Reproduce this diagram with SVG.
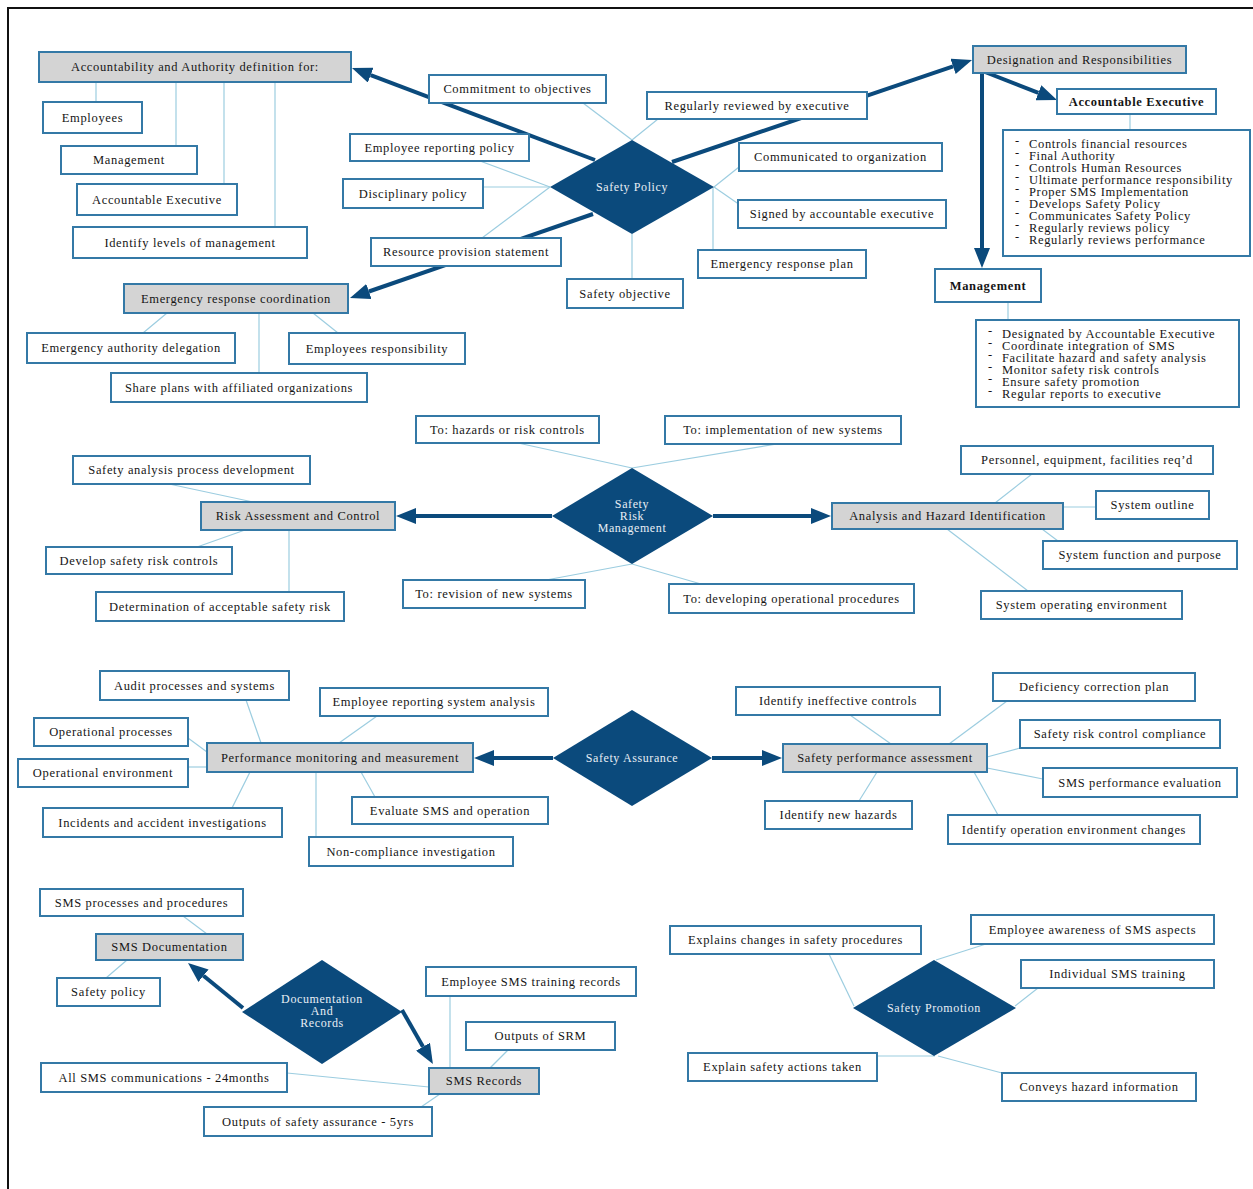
<svg xmlns="http://www.w3.org/2000/svg" width="1253" height="1189" viewBox="0 0 1253 1189">
<defs>
<style>
.b rect{fill:#fff;stroke:#3479a6;stroke-width:2}
.h rect{fill:#d4d4d4;stroke:#3479a6;stroke-width:2}
.b text,.h text{font-family:"Liberation Serif","Times New Roman",serif;font-size:12.5px;letter-spacing:0.65px;fill:#151515;text-anchor:middle;dominant-baseline:central}
.bold text{font-weight:bold}
.l text{text-anchor:start}
.d polygon{fill:#0b4a7c}
.d text{font-family:"Liberation Serif","Times New Roman",serif;font-size:12px;letter-spacing:0.6px;fill:#e8eef5;text-anchor:middle;dominant-baseline:central}
.thin line{stroke:#9ccde0;stroke-width:1.2}
.thick line{stroke:#0b4a7c;stroke-width:4;marker-end:url(#ah)}
</style>
<marker id="ah" markerUnits="userSpaceOnUse" markerWidth="20" markerHeight="16" refX="0" refY="8" orient="auto">
<path d="M0,0 L20,8 L0,16 z" fill="#0b4a7c"/>
</marker>
</defs>
<rect x="0" y="0" width="1253" height="1189" fill="#fff"/>
<rect x="8" y="8" width="1300" height="1300" fill="none" stroke="#111" stroke-width="2"/>

<g id="connectors">
<g class="thin">
<line x1="96" y1="82" x2="96" y2="102"/>
<line x1="176" y1="82" x2="176" y2="146"/>
<line x1="224" y1="82" x2="224" y2="184"/>
<line x1="275" y1="82" x2="275" y2="227"/>
<line x1="583" y1="103" x2="632" y2="140"/>
<line x1="658" y1="119" x2="632" y2="140"/>
<line x1="480" y1="161" x2="550" y2="187"/>
<line x1="483" y1="187" x2="550" y2="187"/>
<line x1="482" y1="238" x2="550" y2="187"/>
<line x1="632" y1="234" x2="632" y2="279"/>
<line x1="713" y1="187" x2="713" y2="250"/>
<line x1="714" y1="187" x2="739" y2="167"/>
<line x1="714" y1="187" x2="740" y2="205"/>
<line x1="167" y1="313" x2="143" y2="333"/>
<line x1="259" y1="313" x2="259" y2="373"/>
<line x1="313" y1="313" x2="338" y2="333"/>
<line x1="1130" y1="114" x2="1130" y2="130"/>
<line x1="1008" y1="302" x2="1008" y2="320"/>
<line x1="518" y1="443" x2="632" y2="468"/>
<line x1="777" y1="444" x2="632" y2="468"/>
<line x1="546" y1="580" x2="632" y2="564"/>
<line x1="701" y1="584" x2="632" y2="564"/>
<line x1="169" y1="484" x2="253" y2="502"/>
<line x1="245" y1="530" x2="197" y2="547"/>
<line x1="289" y1="530" x2="289" y2="592"/>
<line x1="995" y1="503" x2="1032" y2="474"/>
<line x1="1063" y1="507" x2="1096" y2="507"/>
<line x1="1042" y1="529" x2="1058" y2="541"/>
<line x1="947" y1="529" x2="1028" y2="591"/>
<line x1="246" y1="700" x2="261" y2="743"/>
<line x1="377" y1="716" x2="339" y2="743"/>
<line x1="188" y1="738" x2="207" y2="752"/>
<line x1="188" y1="767" x2="207" y2="767"/>
<line x1="232" y1="808" x2="250" y2="772"/>
<line x1="316" y1="772" x2="316" y2="837"/>
<line x1="361" y1="772" x2="375" y2="797"/>
<line x1="850" y1="715" x2="891" y2="744"/>
<line x1="1007" y1="701" x2="949" y2="744"/>
<line x1="1020" y1="748" x2="987" y2="757"/>
<line x1="987" y1="768" x2="1043" y2="779"/>
<line x1="877" y1="772" x2="859" y2="801"/>
<line x1="974" y1="772" x2="998" y2="815"/>
<line x1="183" y1="916" x2="207" y2="934"/>
<line x1="127" y1="960" x2="106" y2="978"/>
<line x1="450" y1="996" x2="450" y2="1068"/>
<line x1="508" y1="1050" x2="490" y2="1068"/>
<line x1="287" y1="1073" x2="429" y2="1087"/>
<line x1="440" y1="1094" x2="421" y2="1107"/>
<line x1="829" y1="954" x2="854" y2="1006"/>
<line x1="986" y1="944" x2="936" y2="960"/>
<line x1="1038" y1="988" x2="1015" y2="1006"/>
<line x1="877" y1="1056" x2="935" y2="1056"/>
<line x1="938" y1="1056" x2="1002" y2="1073"/>
</g>
<g class="thick">
<line x1="595" y1="160" x2="370.7" y2="75.1"/>
<line x1="672" y1="162" x2="953.1" y2="66.4"/>
<line x1="593" y1="214" x2="368.9" y2="291.5"/>
<line x1="985" y1="72" x2="1038.4" y2="92.8"/>
<line x1="982" y1="72" x2="982" y2="248"/>
<line x1="552" y1="516" x2="416" y2="516"/>
<line x1="713" y1="516" x2="811" y2="516"/>
<line x1="553" y1="758" x2="494" y2="758"/>
<line x1="712" y1="758" x2="762" y2="758"/>
<line x1="243" y1="1008" x2="203.5" y2="975.7"/>
<line x1="402" y1="1010" x2="423" y2="1046.7"/>
</g>
</g>

<g id="nodes">
<g id="n_acc" class="h"><rect x="39" y="52" width="312" height="30"/><text x="195" y="67">Accountability and Authority definition for:</text></g>
<g id="n_emp" class="b"><rect x="43" y="102" width="99" height="31"/><text x="92.5" y="118">Employees</text></g>
<g id="n_mgmt" class="b"><rect x="61" y="146" width="136" height="28"/><text x="129" y="160">Management</text></g>
<g id="n_ae1" class="b"><rect x="77" y="184" width="160" height="31"/><text x="157" y="200">Accountable Executive</text></g>
<g id="n_lvl" class="b"><rect x="73" y="227" width="234" height="31"/><text x="190" y="242.5">Identify levels of management</text></g>

<g id="d_sp" class="d"><polygon points="550,187 632,140 714,187 632,234"/><text x="632" y="187">Safety Policy</text></g>
<g id="n_commit" class="b"><rect x="429" y="75" width="177" height="28"/><text x="517.5" y="89">Commitment to objectives</text></g>
<g id="n_review" class="b"><rect x="647" y="92" width="220" height="27"/><text x="757" y="105.5">Regularly reviewed by executive</text></g>
<g id="n_erp" class="b"><rect x="350" y="134" width="179" height="27"/><text x="439.5" y="147.5">Employee reporting policy</text></g>
<g id="n_disc" class="b"><rect x="343" y="179" width="140" height="29"/><text x="413" y="193.5">Disciplinary policy</text></g>
<g id="n_res" class="b"><rect x="371" y="238" width="190" height="28"/><text x="466" y="252">Resource provision statement</text></g>
<g id="n_sobj" class="b"><rect x="567" y="279" width="116" height="29"/><text x="625" y="293.5">Safety objective</text></g>
<g id="n_eplan" class="b"><rect x="698" y="250" width="168" height="28"/><text x="782" y="264">Emergency response plan</text></g>
<g id="n_signed" class="b"><rect x="738" y="200" width="208" height="28"/><text x="842" y="214">Signed by accountable executive</text></g>
<g id="n_comm" class="b"><rect x="739" y="143" width="203" height="28"/><text x="840.5" y="157">Communicated to organization</text></g>

<g id="n_erc" class="h"><rect x="124" y="284" width="224" height="29"/><text x="236" y="298.5">Emergency response coordination</text></g>
<g id="n_ead" class="b"><rect x="27" y="333" width="208" height="30"/><text x="131" y="348">Emergency authority delegation</text></g>
<g id="n_eresp" class="b"><rect x="289" y="333" width="176" height="31"/><text x="377" y="348.5">Employees responsibility</text></g>
<g id="n_share" class="b"><rect x="111" y="373" width="256" height="29"/><text x="239" y="387.5">Share plans with affiliated organizations</text></g>

<g id="n_des" class="h"><rect x="973" y="46" width="213" height="27"/><text x="1079.5" y="59.5">Designation and Responsibilities</text></g>
<g id="n_ae" class="b bold"><rect x="1057" y="89" width="159" height="25"/><text x="1136.5" y="101.5">Accountable Executive</text></g>
<g id="n_ae_list" class="b l"><rect x="1003" y="130" width="247" height="126"/>
<text x="1015" y="141">-</text><text x="1029" y="144">Controls financial resources</text>
<text x="1015" y="153">-</text><text x="1029" y="156">Final Authority</text>
<text x="1015" y="165">-</text><text x="1029" y="168">Controls Human Resources</text>
<text x="1015" y="177">-</text><text x="1029" y="180">Ultimate performance responsibility</text>
<text x="1015" y="189">-</text><text x="1029" y="192">Proper SMS Implementation</text>
<text x="1015" y="201">-</text><text x="1029" y="204">Develops Safety Policy</text>
<text x="1015" y="213">-</text><text x="1029" y="216">Communicates Safety Policy</text>
<text x="1015" y="225">-</text><text x="1029" y="228">Regularly reviews policy</text>
<text x="1015" y="237">-</text><text x="1029" y="240">Regularly reviews performance</text>
</g>
<g id="n_mg" class="b bold"><rect x="935" y="269" width="106" height="33"/><text x="988" y="285.5">Management</text></g>
<g id="n_mg_list" class="b l"><rect x="976" y="320" width="263" height="87"/>
<text x="988" y="331">-</text><text x="1002" y="334">Designated by Accountable Executive</text>
<text x="988" y="343">-</text><text x="1002" y="346">Coordinate integration of SMS</text>
<text x="988" y="355">-</text><text x="1002" y="358">Facilitate hazard and safety analysis</text>
<text x="988" y="367">-</text><text x="1002" y="370">Monitor safety risk controls</text>
<text x="988" y="379">-</text><text x="1002" y="382">Ensure safety promotion</text>
<text x="988" y="391">-</text><text x="1002" y="394">Regular reports to executive</text>
</g>

<g id="d_srm" class="d"><polygon points="552,516 632,468 713,516 632,564"/><text x="632" y="504">Safety</text><text x="632" y="516">Risk</text><text x="632" y="528">Management</text></g>
<g id="n_haz" class="b"><rect x="416" y="416" width="183" height="27"/><text x="507.5" y="429.5">To: hazards or risk controls</text></g>
<g id="n_impl" class="b"><rect x="665" y="416" width="236" height="28"/><text x="783" y="430">To: implementation of new systems</text></g>
<g id="n_sapd" class="b"><rect x="73" y="456" width="237" height="28"/><text x="191.5" y="470">Safety analysis process development</text></g>
<g id="n_rac" class="h"><rect x="201" y="502" width="194" height="28"/><text x="298" y="516">Risk Assessment and Control</text></g>
<g id="n_dsrc" class="b"><rect x="46" y="547" width="186" height="27"/><text x="139" y="560.5">Develop safety risk controls</text></g>
<g id="n_dasr" class="b"><rect x="96" y="592" width="248" height="29"/><text x="220" y="606.5">Determination of acceptable safety risk</text></g>
<g id="n_rev" class="b"><rect x="403" y="580" width="182" height="28"/><text x="494" y="594">To: revision of new systems</text></g>
<g id="n_dop" class="b"><rect x="669" y="584" width="245" height="29"/><text x="791.5" y="598.5">To: developing operational procedures</text></g>
<g id="n_ahi" class="h"><rect x="832" y="503" width="231" height="26"/><text x="947.5" y="516">Analysis and Hazard Identification</text></g>
<g id="n_pers" class="b"><rect x="961" y="446" width="252" height="28"/><text x="1087" y="460">Personnel, equipment, facilities req’d</text></g>
<g id="n_sout" class="b"><rect x="1096" y="491" width="113" height="28"/><text x="1152.5" y="505">System outline</text></g>
<g id="n_sfp" class="b"><rect x="1043" y="541" width="194" height="28"/><text x="1140" y="555">System function and purpose</text></g>
<g id="n_soe" class="b"><rect x="981" y="591" width="201" height="28"/><text x="1081.5" y="605">System operating environment</text></g>

<g id="d_sa" class="d"><polygon points="553,758 632,710 712,758 632,806"/><text x="632" y="758">Safety Assurance</text></g>
<g id="n_audit" class="b"><rect x="100" y="671" width="189" height="29"/><text x="194.5" y="685.5">Audit processes and systems</text></g>
<g id="n_ersa" class="b"><rect x="320" y="688" width="228" height="28"/><text x="434" y="702">Employee reporting system analysis</text></g>
<g id="n_opp" class="b"><rect x="34" y="718" width="154" height="28"/><text x="111" y="732">Operational processes</text></g>
<g id="n_ope" class="b"><rect x="18" y="759" width="170" height="28"/><text x="103" y="773">Operational environment</text></g>
<g id="n_pmm" class="h"><rect x="207" y="743" width="266" height="29"/><text x="340" y="757.5">Performance monitoring and measurement</text></g>
<g id="n_eval" class="b"><rect x="352" y="797" width="196" height="27"/><text x="450" y="810.5">Evaluate SMS and operation</text></g>
<g id="n_inc" class="b"><rect x="43" y="808" width="239" height="29"/><text x="162.5" y="822.5">Incidents and accident investigations</text></g>
<g id="n_nci" class="b"><rect x="309" y="837" width="204" height="29"/><text x="411" y="851.5">Non-compliance investigation</text></g>
<g id="n_iic" class="b"><rect x="736" y="687" width="204" height="28"/><text x="838" y="701">Identify ineffective controls</text></g>
<g id="n_dcp" class="b"><rect x="993" y="673" width="202" height="28"/><text x="1094" y="687">Deficiency correction plan</text></g>
<g id="n_src" class="b"><rect x="1020" y="720" width="200" height="28"/><text x="1120" y="734">Safety risk control compliance</text></g>
<g id="n_spa" class="h"><rect x="783" y="744" width="204" height="28"/><text x="885" y="758">Safety performance assessment</text></g>
<g id="n_spe" class="b"><rect x="1043" y="768" width="194" height="29"/><text x="1140" y="782.5">SMS performance evaluation</text></g>
<g id="n_inh" class="b"><rect x="765" y="801" width="147" height="28"/><text x="838.5" y="815">Identify new hazards</text></g>
<g id="n_ioec" class="b"><rect x="948" y="815" width="252" height="29"/><text x="1074" y="829.5">Identify operation environment changes</text></g>

<g id="d_doc" class="d"><polygon points="242,1012 322,960 402,1012 322,1064"/><text x="322" y="999">Documentation</text><text x="322" y="1011">And</text><text x="322" y="1023">Records</text></g>
<g id="n_smspp" class="b"><rect x="40" y="889" width="203" height="27"/><text x="141.5" y="902.5">SMS processes and procedures</text></g>
<g id="n_smsdoc" class="h"><rect x="96" y="934" width="147" height="26"/><text x="169.5" y="947">SMS Documentation</text></g>
<g id="n_spol" class="b"><rect x="57" y="978" width="103" height="28"/><text x="108.5" y="992">Safety policy</text></g>
<g id="n_estr" class="b"><rect x="426" y="967" width="210" height="29"/><text x="531" y="981.5">Employee SMS training records</text></g>
<g id="n_osrm" class="b"><rect x="466" y="1022" width="149" height="28"/><text x="540.5" y="1036">Outputs of SRM</text></g>
<g id="n_smsrec" class="h"><rect x="429" y="1068" width="110" height="26"/><text x="484" y="1081">SMS Records</text></g>
<g id="n_allsms" class="b"><rect x="41" y="1063" width="246" height="29"/><text x="164" y="1077.5">All SMS communications - 24months</text></g>
<g id="n_osa" class="b"><rect x="204" y="1107" width="228" height="29"/><text x="318" y="1121.5">Outputs of safety assurance - 5yrs</text></g>

<g id="d_prom" class="d"><polygon points="853,1008 934,960 1016,1008 934,1056"/><text x="934" y="1008">Safety Promotion</text></g>
<g id="n_ecsp" class="b"><rect x="670" y="926" width="251" height="28"/><text x="795.5" y="940">Explains changes in safety procedures</text></g>
<g id="n_eas" class="b"><rect x="971" y="915" width="243" height="29"/><text x="1092.5" y="929.5">Employee awareness of SMS aspects</text></g>
<g id="n_ist" class="b"><rect x="1021" y="960" width="193" height="28"/><text x="1117.5" y="974">Individual SMS training</text></g>
<g id="n_esat" class="b"><rect x="688" y="1053" width="189" height="28"/><text x="782.5" y="1067">Explain safety actions taken</text></g>
<g id="n_chi" class="b"><rect x="1002" y="1073" width="194" height="28"/><text x="1099" y="1087">Conveys hazard information</text></g>
</g>
</svg>
